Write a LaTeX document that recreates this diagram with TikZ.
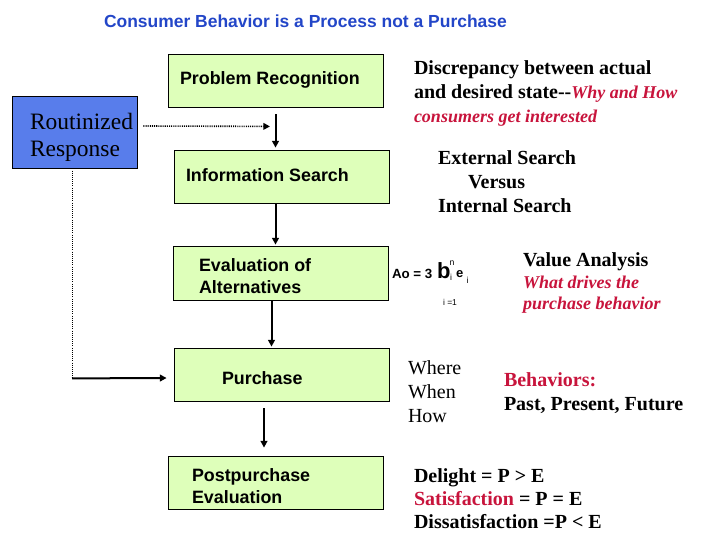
\documentclass[tikz,border=0pt]{standalone}
\usepackage{fontspec}
\setmainfont{Liberation Serif}
\newfontfamily\arialf{Liberation Sans}
\usetikzlibrary{arrows.meta,calc}
\definecolor{titleblue}{RGB}{35,70,200}
\definecolor{routblue}{RGB}{88,125,235}
\definecolor{boxgreen}{RGB}{222,255,186}
\definecolor{textred}{RGB}{200,20,60}
\newcommand{\mlines}[1]{\begin{tabular}[t]{@{}l@{}}#1\end{tabular}}
\tikzset{
  box/.style={draw=black, line width=0.6pt, fill=boxgreen, minimum width=161.25pt, minimum height=39.75pt, inner sep=0pt},
  routbox/.style={draw=black, line width=0.6pt, fill=routblue, minimum width=93.75pt, minimum height=54pt, inner sep=0pt},
  txt/.style={anchor=base west, inner sep=0pt, outer sep=0pt},
  titletext/.style={txt, text=titleblue, font=\arialf\bfseries\fontsize{13.1}{15}\selectfont},
  sanst/.style={txt, font=\arialf\bfseries\fontsize{13.4}{16.5}\selectfont},
  routt/.style={txt, font=\fontsize{17.6}{20.25}\selectfont},
  serift/.style={txt, font=\bfseries\fontsize{15}{18}\selectfont},
  serifr/.style={txt, font=\fontsize{15}{18}\selectfont},
  redit/.style={txt, text=textred, font=\bfseries\itshape\fontsize{13.5}{15.75}\selectfont},
  arr/.style={line width=1.5pt, -{Triangle[length=5pt,width=5pt]}},
  dotarr/.style={line width=1.2pt, dash pattern=on 0.8pt off 0.8pt, -{Triangle[length=5pt,width=5pt]}},
  dotline/.style={line width=0.7pt, dash pattern=on 0.7pt off 0.9pt},
}
\begin{document}
\begin{tikzpicture}[x=0.75pt,y=-0.75pt]
\useasboundingbox (0,0) rectangle (720,540);
\fill[white] (0,0) rectangle (720,540);

% title
\node[titletext] (title) at (104,27) {Consumer Behavior is a Process not a Purchase};

% boxes
\node[box] (prob) at (275.5,80.5) {};
\node[box] (info) at (281.5,176.5) {};
\node[box, minimum height=40.5pt] (eval) at (280.5,273) {};
\node[box] (purch) at (281.5,374.5) {};
\node[box] (post) at (275.5,482.5) {};
\node[routbox] (rout) at (74.5,132) {};

% box texts
\node[sanst] (probt) at (180,84) {Problem Recognition};
\node[sanst] (infot) at (186,181) {Information Search};
\node[sanst] (evalt) at (199,271) {\mlines{Evaluation of\\Alternatives}};
\node[sanst] (purcht) at (222,384) {Purchase};
\node[sanst] (postt) at (192,481) {\mlines{Postpurchase\\Evaluation}};
\node[routt] (routt) at (30,129) {\mlines{Routinized\\Response}};

% connectors
\draw[arr] ($(prob.south)+(0,7)$) -- ($(prob.south |- info.north)+(0,-2)$);
\draw[arr] ($(info.south)+(-6,0)$) -- ($(eval.north)+(-5,-1)$);
\draw[arr] ($(eval.south)+(-9,0)$) -- ($(purch.north)+(-10,-1)$);
\draw[arr] ($(purch.south)+(-17.5,7)$) -- ($(post.north)+(-11.5,-8)$);
\draw[dotarr] ($(rout.east)+(6,-6)$) -- ($(prob.south)+(-5.5,19)$);
\coordinate (corner) at ($(rout.south)+(-2.5,210)$);
\draw[dotline] ($(rout.south)+(-2.5,0)$) -- (corner);
\draw[arr] (corner) -- ($(purch.west)+(-7,3.5)$);

% right-hand texts
\node[serift] (disc) at (414,74) {\mlines{Discrepancy between actual\\and desired state-{}-{\color{textred}\itshape\fontsize{13.5}{17}\selectfont Why and How}\\{\color{textred}\itshape\fontsize{13.5}{17}\selectfont consumers get interested}}};
\node[serift] (ext) at (438,164) {\mlines{External Search\\\hspace{22.5pt}Versus\\Internal Search}};

% formula
\node[txt, font=\arialf\bfseries\fontsize{10}{12}\selectfont] (fa) at (392,278) {Ao = 3};
\node[txt, font=\arialf\bfseries\fontsize{16.5}{20}\selectfont] (fb) at (437,278) {b};
\node[txt, font=\arialf\fontsize{6.5}{8}\selectfont] (fn) at (449.5,265) {n};
\node[txt, font=\arialf\fontsize{6.5}{8}\selectfont] (fi1) at (450,280) {i};
\node[txt, font=\arialf\bfseries\fontsize{9.75}{12}\selectfont] (fe) at (456,277) {e};
\node[txt, font=\arialf\fontsize{6.5}{8}\selectfont] (fi2) at (466.5,283) {i};
\node[txt, font=\arialf\fontsize{6.4}{8}\selectfont] (fsum) at (443,305) {i =1};

\node[serift] (val) at (523,266) {Value Analysis};
\node[redit] (valr) at (523,288) {\mlines{What drives the\\purchase behavior}};

\node[serifr] (wwh) at (408,374) {\mlines{Where\\When\\How}};
\node[serift] (beh) at (504,386) {\mlines{{\color{textred}Behaviors:}\\Past, Present, Future}};

\node[serift, font=\bfseries\fontsize{15}{17.6}\selectfont] (del) at (414,482) {\mlines{Delight = P > E\\{\color{textred}Satisfaction} = P = E\\Dissatisfaction =P < E}};
\end{tikzpicture}
\end{document}
